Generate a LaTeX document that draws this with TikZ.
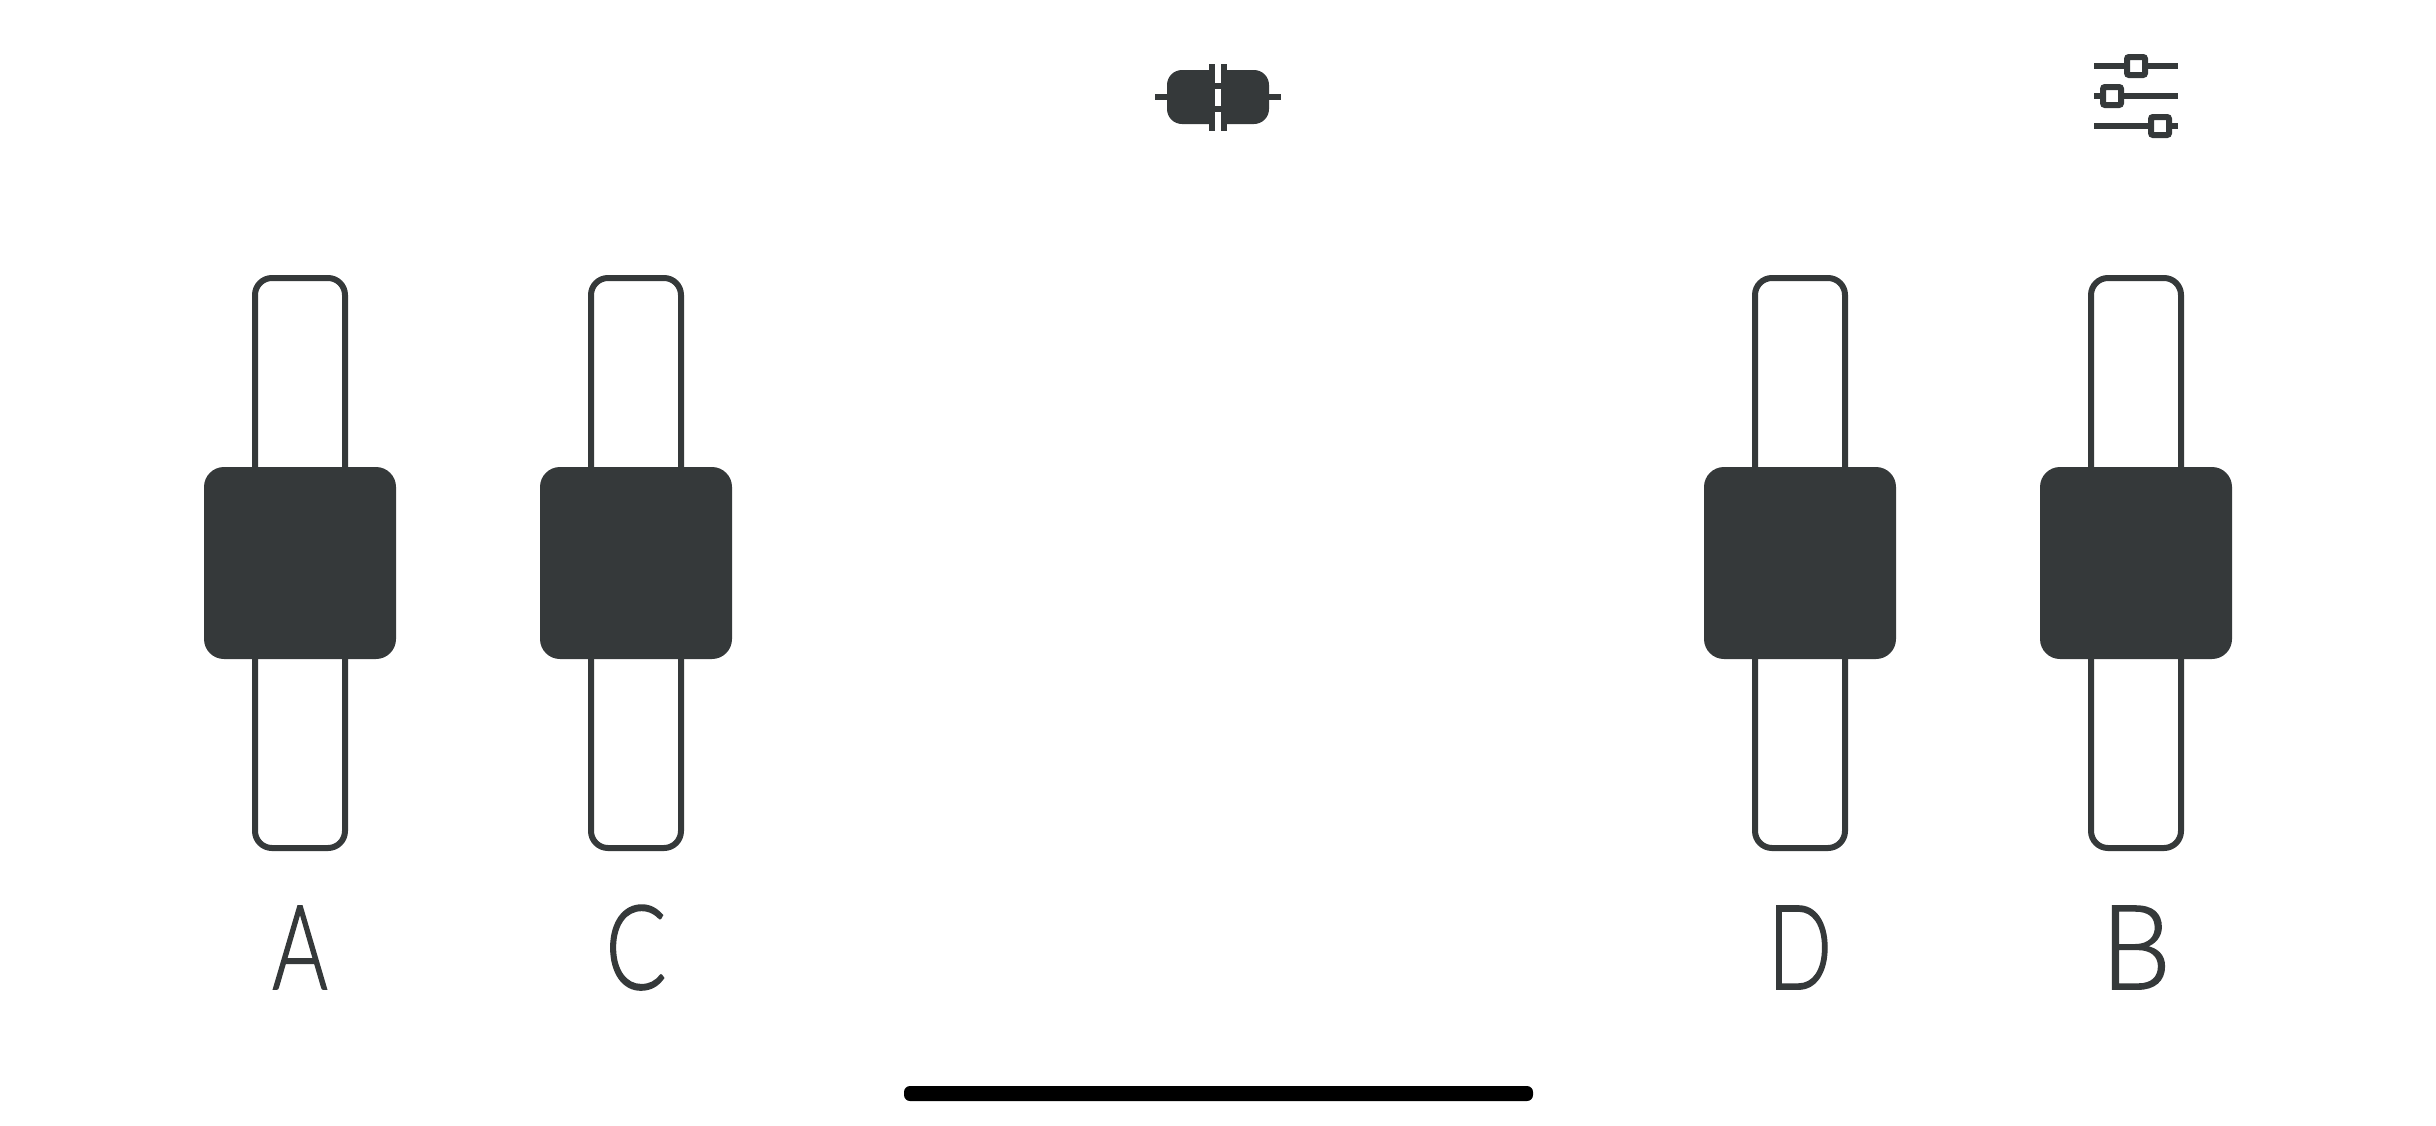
\documentclass[tikz,border=0pt]{standalone}
\usepackage{fontspec}
\setmainfont{Lato}[UprightFont=* Light, UprightFeatures={FakeBold=1.5}]
\definecolor{panelgrey}{HTML}{35393A}
\begin{document}
\begin{tikzpicture}
        [
            x=0.5pt, y=-0.5pt,
            track/.style={rectangle, draw=panelgrey, line width=3pt, rounded corners=8.5pt, inner sep=0pt, minimum width=45pt, minimum height=285pt},
            knob/.style={rectangle, fill=panelgrey, rounded corners=10pt, inner sep=0pt, minimum width=96pt, minimum height=96pt},
            letter/.style={anchor=base, text=panelgrey, inner sep=0pt, font=\fontsize{58.6}{60}\selectfont},
            wire/.style={draw=panelgrey, line width=3pt},
            thumb/.style={rectangle, draw=panelgrey, fill=white, line width=3pt, rounded corners=1pt, inner sep=0pt, minimum width=9pt, minimum height=9pt},
        ]
            \useasboundingbox (0,0) rectangle (2436,1125);

            % channels
            \node[track] (trackA) at (300,563) {};
            \node[track] (trackC) at (636,563) {};
            \node[track] (trackD) at (1800,563) {};
            \node[track] (trackB) at (2136,563) {};
            \node[knob] (knobA) at (300,563) {};
            \node[knob] (knobC) at (636,563) {};
            \node[knob] (knobD) at (1800,563) {};
            \node[knob] (knobB) at (2136,563) {};

            \node[letter] (labelA) at (300,989) {\scalebox{0.72}[1]{A}};
            \node[letter] (labelC) at (636,989) {\scalebox{0.77}[1]{C}};
            \node[letter] (labelD) at (1800,989) {\scalebox{0.72}[1]{D}};
            \node[letter] (labelB) at (2136,989) {\scalebox{0.94}[1]{B}};

            % capacitor icon
            \fill[panelgrey] (1209,70) [rounded corners=7.5pt] -- (1167,70) -- (1167,124) [sharp corners] -- (1209,124) -- cycle;
            \fill[panelgrey] (1227,70) [rounded corners=7.5pt] -- (1269,70) -- (1269,124) [sharp corners] -- (1227,124) -- cycle;
            \fill[panelgrey] (1209,64) rectangle (1215,131);
            \fill[panelgrey] (1221,64) rectangle (1227,131);
            \fill[panelgrey] (1215,83) rectangle (1221,89);
            \fill[panelgrey] (1215,106) rectangle (1221,112);
            \draw[wire] (1155,97) -- (1167,97);
            \draw[wire] (1269,97) -- (1281,97);

            % slider icon
            \draw[wire] (2094,66) -- (2178,66);
            \draw[wire] (2094,96) -- (2178,96);
            \draw[wire] (2094,126) -- (2178,126);
            \node[thumb] (thumbTop) at (2136,66) {};
            \node[thumb] (thumbMid) at (2112,96) {};
            \node[thumb] (thumbLow) at (2160,126) {};

            % home bar
            \fill[black, rounded corners=3pt] (904,1086) rectangle (1533,1101);
        \end{tikzpicture}
\end{document}
